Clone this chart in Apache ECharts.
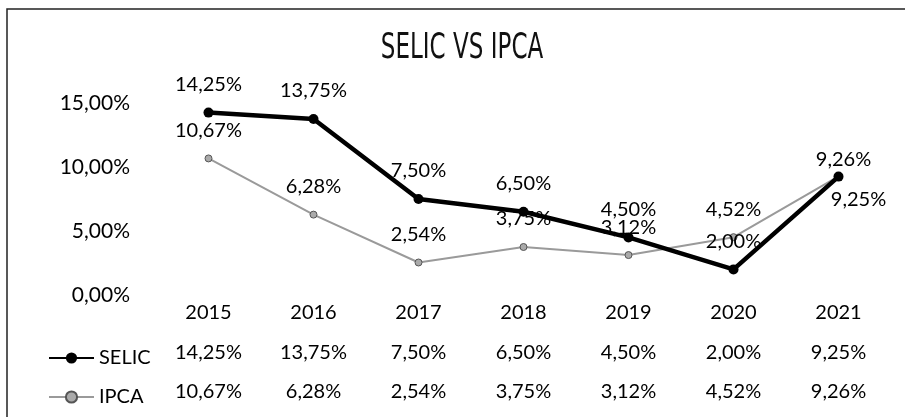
<!DOCTYPE html>
<html><head><meta charset="utf-8">
<script src="https://cdn.jsdelivr.net/npm/echarts@6/dist/echarts.min.js"></script>
<style>html,body{margin:0;padding:0;background:#fff}#c{width:905px;height:417px}</style>
</head><body><div id="c"></div>
<script>
const years = ['2015','2016','2017','2018','2019','2020','2021'];
const selic = [14.25, 13.75, 7.50, 6.50, 4.50, 2.00, 9.25];
const ipca = [10.67, 6.28, 2.54, 3.75, 3.12, 4.52, 9.26];
const yTicks = [0, 5, 10, 15];
const titleText = 'SELIC VS IPCA';

const fmt = v => v.toFixed(2).replace('.', ',') + '%';
const FONT = 'Lato';
const chart = echarts.init(document.getElementById('c'));
const txt = {fontFamily: FONT, fontSize: 20, color: '#000'};

chart.setOption({
  animation: false,
  graphic: [
    {type: 'rect', shape: {x: 7, y: 9, width: 920, height: 440}, style: {fill: 'none', stroke: '#222', lineWidth: 1.5}, silent: true},
    {type: 'text', x: 462, y: 49, scaleX: 0.64, silent: true,
     style: {text: titleText, fontFamily: 'DejaVu Sans', fontSize: 36, fill: '#111', align: 'center', verticalAlign: 'middle'}}
  ],
  legend: [
    {data: ['SELIC'], left: 43, top: 343, itemWidth: 45, itemHeight: 14, textStyle: Object.assign({}, txt, {lineHeight: 20})},
    {data: ['IPCA'], left: 43, top: 382, itemWidth: 45, itemHeight: 14, textStyle: Object.assign({}, txt, {lineHeight: 20})}
  ],
  grid: {left: 156, right: 14, top: 103, bottom: 122},
  xAxis: [
    {type: 'category', data: years, axisLine: {show: false}, axisTick: {show: false}, axisLabel: Object.assign({margin: 8}, txt)},
    {type: 'category', data: years, position: 'bottom', offset: 38, axisLine: {show: false}, axisTick: {show: false},
     axisLabel: Object.assign({margin: 10, formatter: (v, i) => fmt(selic[i])}, txt)},
    {type: 'category', data: years, position: 'bottom', offset: 77, axisLine: {show: false}, axisTick: {show: false},
     axisLabel: Object.assign({margin: 10, formatter: (v, i) => fmt(ipca[i])}, txt)}
  ],
  yAxis: {
    type: 'value', min: yTicks[0], max: yTicks[yTicks.length - 1], interval: 5,
    splitLine: {show: false}, axisLine: {show: false}, axisTick: {show: false},
    axisLabel: Object.assign({margin: 26, formatter: v => fmt(v)}, txt, {fontSize: 21})
  },
  series: [
    {
      name: 'IPCA', type: 'line', data: ipca.map((v, i) => i === 6 ? {value: v, label: {distance: 3, offset: [5, 0]}} : v),
      symbol: 'circle', symbolSize: 7,
      lineStyle: {color: '#9a9a9a', width: 2},
      itemStyle: {color: '#aaa', borderColor: '#555', borderWidth: 1},
      label: {show: true, position: 'top', distance: 14, formatter: p => fmt(p.value), fontFamily: FONT, fontSize: 20, color: '#000'},
      z: 2
    },
    {
      name: 'SELIC', type: 'line', data: selic.map((v, i) => i === 6 ? {value: v, label: {position: 'bottom', distance: 8, offset: [20, 0]}} : v),
      symbol: 'circle', symbolSize: 10,
      lineStyle: {color: '#000', width: 4.5},
      itemStyle: {color: '#000'},
      label: {show: true, position: 'top', distance: 13, formatter: p => fmt(p.value), fontFamily: FONT, fontSize: 20, color: '#000'},
      z: 3
    }
  ]
});
</script></body></html>
